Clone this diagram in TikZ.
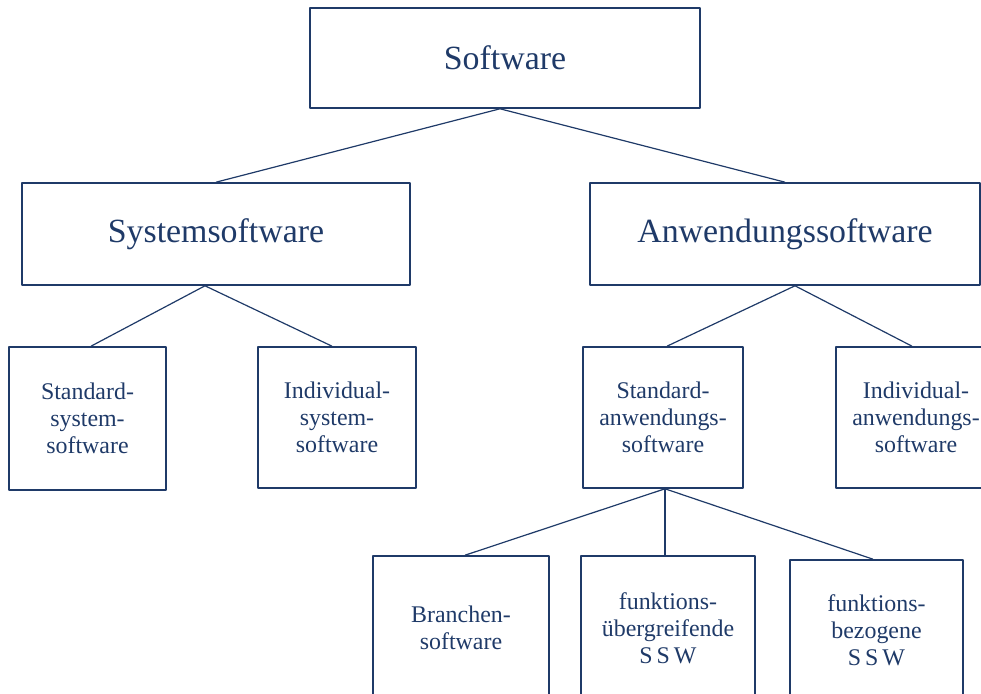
\documentclass[tikz,border=0pt]{standalone}
\usepackage{fontspec}
\setmainfont{Liberation Serif}
\definecolor{boxblue}{RGB}{31,58,104}
\tikzset{
  bigbox/.style={draw=boxblue,line width=1.6bp,text=boxblue,align=center,inner sep=0pt,
    font=\fontsize{34}{40}\selectfont},
  smallbox/.style={draw=boxblue,line width=1.6bp,text=boxblue,align=center,inner sep=0pt,
    font=\fontsize{24}{27}\selectfont},
  link/.style={boxblue,line width=1.2bp},
}
\begin{document}
\begin{tikzpicture}[line join=bevel,]
\useasboundingbox (0bp,0bp) rectangle (981bp,694bp);
\clip (0bp,0bp) rectangle (981bp,694bp);
%%
\node (node_sw) at (505bp,636bp) [bigbox,minimum width=390bp,minimum height=100bp] {Software};
  \node (node_sys) at (216bp,460bp) [bigbox,minimum width=388bp,minimum height=102bp] {Systemsoftware};
  \node (node_anw) at (785bp,460bp) [bigbox,minimum width=390bp,minimum height=102bp] {Anwendungssoftware};
  \node (node_stdsys) at (87.5bp,275.5bp) [smallbox,minimum width=157bp,minimum height=143bp] {Standard-\\system-\\software};
  \node (node_indsys) at (337bp,276.5bp) [smallbox,minimum width=158bp,minimum height=141bp] {Individual-\\system-\\software};
  \node (node_stdanw) at (663bp,276.5bp) [smallbox,minimum width=160bp,minimum height=141bp] {Standard-\\anwendungs-\\software};
  \node (node_indanw) at (916bp,276.5bp) [smallbox,minimum width=160bp,minimum height=141bp] {Individual-\\anwendungs-\\software};
  \node (node_branche) at (461bp,66bp) [smallbox,minimum width=176bp,minimum height=144bp] {Branchen-\\software};
  \node (node_uebergr) at (668bp,66bp) [smallbox,minimum width=174bp,minimum height=144bp] {funktions-\\übergreifende\\S\,S\,W};
  \node (node_bezogen) at (876.5bp,64bp) [smallbox,minimum width=173bp,minimum height=140bp] {funktions-\\bezogene\\S\,S\,W};
  \coordinate (sw_foot) at ([xshift=-5bp]node_sw.south);
  \coordinate (sys_foot) at ([xshift=-11bp]node_sys.south);
  \coordinate (anw_foot) at ([xshift=10bp]node_anw.south);
  \coordinate (stdanw_foot) at ([xshift=2bp]node_stdanw.south);
  \draw [link] (sw_foot) -- (node_sys.north);
  \draw [link] (sw_foot) -- (node_anw.north);
  \draw [link] (sys_foot) -- ([xshift=3.5bp]node_stdsys.north);
  \draw [link] (sys_foot) -- ([xshift=-5bp]node_indsys.north);
  \draw [link] (anw_foot) -- ([xshift=4bp]node_stdanw.north);
  \draw [link] (anw_foot) -- ([xshift=-4bp]node_indanw.north);
  \draw [link] (stdanw_foot) -- ([xshift=4bp]node_branche.north);
  \draw [link] (stdanw_foot) -- (stdanw_foot |- node_uebergr.north);
  \draw [link] (stdanw_foot) -- ([xshift=-3.5bp]node_bezogen.north);
%
\end{tikzpicture}
\end{document}
